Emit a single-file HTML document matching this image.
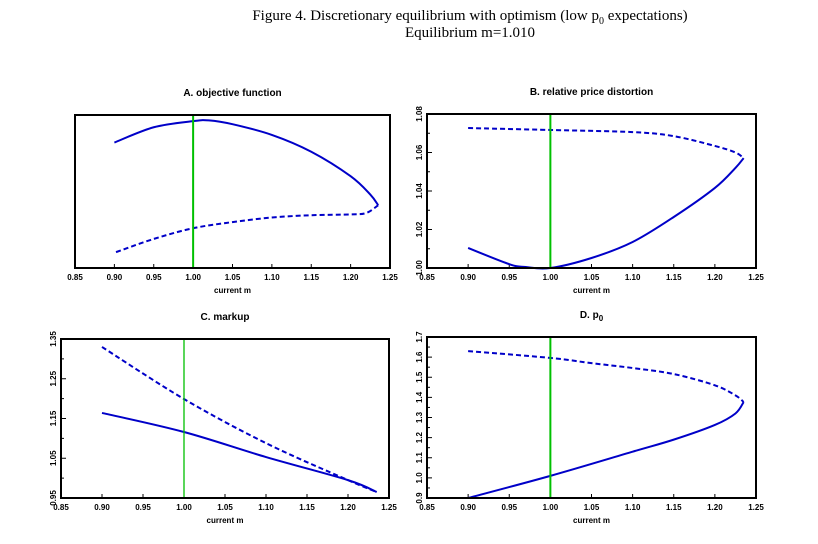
<!DOCTYPE html>
<html><head><meta charset="utf-8"><style>
html,body{margin:0;padding:0;background:#fff;}
svg{display:block;}
.t{font-family:"Liberation Sans",sans-serif;font-size:10px;font-weight:bold;}
.k{font-family:"Liberation Sans",sans-serif;font-size:8px;font-weight:bold;}
.h{font-family:"Liberation Serif",serif;font-size:15px;}
</style></head><body>
<svg id="fig" width="818" height="544" viewBox="0 0 818 544" xmlns="http://www.w3.org/2000/svg">
<text class="h" x="470" y="20" text-anchor="middle">Figure 4.  Discretionary equilibrium with optimism (low p<tspan font-size="10" dy="4">0</tspan><tspan dy="-4"> expectations)</tspan></text>
<text class="h" x="470" y="37" text-anchor="middle">Equilibrium m=1.010</text>
</svg>
<script>
// shared x data
const xTicks = [0.85,0.90,0.95,1.00,1.05,1.10,1.15,1.20,1.25];
const eqM = 1.00;
// Panel A: objective function (no y scale; arbitrary units)
const aSolidM = [0.90,0.95,1.00,1.02,1.05,1.10,1.15,1.20,1.225,1.235];
const aSolidV = [82,92,96,96.5,94,87,76,60,48,41];
const aDashM = [1.235,1.22,1.20,1.15,1.10,1.05,1.00,0.95,0.90];
const aDashV = [41,36,35,34.5,33,30,26,19,10];
// Panel B: relative price distortion
const bTicks = [1.00,1.02,1.04,1.06,1.08];
const bDashM = [0.90,1.00,1.10,1.15,1.20,1.225,1.235];
const bDashV = [1.0727,1.0717,1.0706,1.0685,1.0634,1.060,1.0571];
const bSolidM = [1.235,1.225,1.20,1.15,1.10,1.05,1.00,0.97,0.95,0.90];
const bSolidV = [1.0571,1.052,1.0416,1.0265,1.0135,1.0052,1.000,1.0005,1.002,1.0104];
// Panel C: markup
const cTicks = [0.95,1.05,1.15,1.25,1.35];
const cDashM = [0.90,1.00,1.10,1.20,1.235];
const cDashV = [1.330,1.199,1.088,0.995,0.965];
const cSolidM = [0.90,1.00,1.10,1.20,1.235];
const cSolidV = [1.164,1.116,1.053,0.995,0.965];
// Panel D: p0
const dTicks = [0.9,1.0,1.1,1.2,1.3,1.4,1.5,1.6,1.7];
const dDashM = [0.90,1.00,1.05,1.10,1.15,1.20,1.225,1.235];
const dDashV = [1.63,1.596,1.57,1.546,1.516,1.46,1.41,1.377];
const dSolidM = [1.235,1.225,1.20,1.15,1.10,1.00,0.90];
const dSolidV = [1.377,1.32,1.263,1.19,1.13,1.01,0.90];

const NS="http://www.w3.org/2000/svg";
const svg=document.getElementById('fig');
function mk(tag,attrs,parent){const e=document.createElementNS(NS,tag);for(const k in attrs)e.setAttribute(k,attrs[k]);(parent||svg).appendChild(e);return e;}
function smooth(P){
  let d='M'+P[0][0]+','+P[0][1];
  for(let i=0;i<P.length-1;i++){
    const p0=P[i-1]||P[i],p1=P[i],p2=P[i+1],p3=P[i+2]||P[i+1];
    const c1=[p1[0]+(p2[0]-p0[0])/6,p1[1]+(p2[1]-p0[1])/6];
    const c2=[p2[0]-(p3[0]-p1[0])/6,p2[1]-(p3[1]-p1[1])/6];
    d+=' C'+c1[0]+','+c1[1]+' '+c2[0]+','+c2[1]+' '+p2[0]+','+p2[1];
  }
  return d;
}

function panel(cfg){
  const g=mk('g',{});
  
  
  const sx=v=>cfg.x0+(v-0.85)/(1.25-0.85)*(cfg.x1-cfg.x0);
  const sy=v=>cfg.y1-(v-cfg.ymin)/(cfg.ymax-cfg.ymin)*(cfg.y1-cfg.y0);
  const title=mk('text',{x:(cfg.x0+cfg.x1)/2,y:cfg.y0-19,'text-anchor':'middle',class:'t'},g);
  title.innerHTML=cfg.title;
  
  
  xTicks.forEach(t=>{
    const x=sx(t);
    const tk=mk('line',{x1:x,x2:x,y1:cfg.y1,y2:cfg.y1-4,stroke:'#000','stroke-width':1},g);
    
    
    const lb=mk('text',{x:x,y:cfg.y1+12,'text-anchor':'middle',class:'k'},g);
    lb.textContent=t.toFixed(2);
    
    
  });
  const xl=mk('text',{x:(cfg.x0+cfg.x1)/2,y:cfg.y1+25,'text-anchor':'middle',class:'k'},g);
  xl.textContent='current m';
  
  
  (cfg.yTicks||[]).forEach((t,i)=>{
    const y=sy(t);
    const tk=mk('line',{x1:cfg.x0,x2:cfg.x0+5,y1:y,y2:y,stroke:'#000','stroke-width':1},g);
    
    
    const lb=mk('text',{x:cfg.x0-5,y:y,'text-anchor':'middle',class:'k',transform:`rotate(-90 ${cfg.x0-5} ${y})`},g);
    lb.textContent=t.toFixed(cfg.yDec);
    
    
    if(i<cfg.yTicks.length-1){
      const ym=sy((t+cfg.yTicks[i+1])/2);
      const mt=mk('line',{x1:cfg.x0,x2:cfg.x0+3,y1:ym,y2:ym,stroke:'#000','stroke-width':1},g);
      
      
    }
  });
  const line=(M,V,dash,nm)=>{
    const p=mk('path',{d:smooth(M.map((m,i)=>[sx(m),sy(V[i])])),fill:'none',stroke:'#0000c8','stroke-width':2,'stroke-linejoin':'round'},g);
    if(dash)p.setAttribute('stroke-dasharray','5,3');
    
    
  };
  line(cfg.sM,cfg.sV,false,'solid-branch');
  line(cfg.dM,cfg.dV,true,'dashed-branch');
  const ex=sx(eqM);
  const eq=mk('line',{x1:ex,x2:ex,y1:cfg.y0,y2:cfg.y1,stroke:'#00c000','stroke-width':cfg.gw||2},g);
  
  
  const fr=mk('rect',{x:cfg.x0,y:cfg.y0,width:cfg.x1-cfg.x0,height:cfg.y1-cfg.y0,fill:'none',stroke:'#000','stroke-width':2},g);
  
  
}
panel({name:'panel-a-objective-function',title:'A. objective function',x0:75,x1:390,y0:115,y1:268,ymin:0,ymax:100,sM:aSolidM,sV:aSolidV,dM:aDashM,dV:aDashV});
panel({name:'panel-b-relative-price-distortion',title:'B. relative price distortion',x0:427,x1:756,y0:114,y1:268,ymin:1.00,ymax:1.08,yTicks:bTicks,yDec:2,sM:bSolidM,sV:bSolidV,dM:bDashM,dV:bDashV});
panel({name:'panel-c-markup',title:'C. markup',x0:61,x1:389,y0:339,y1:498,ymin:0.95,ymax:1.35,yTicks:cTicks,yDec:2,sM:cSolidM,sV:cSolidV,dM:cDashM,dV:cDashV,gw:1.3});
panel({name:'panel-d-p0',title:'D. p<tspan dy="3" font-size="8">0</tspan>',x0:427,x1:756,y0:337,y1:498,ymin:0.9,ymax:1.7,yTicks:dTicks,yDec:1,sM:dSolidM,sV:dSolidV,dM:dDashM,dV:dDashV});
</script>
</body></html>
